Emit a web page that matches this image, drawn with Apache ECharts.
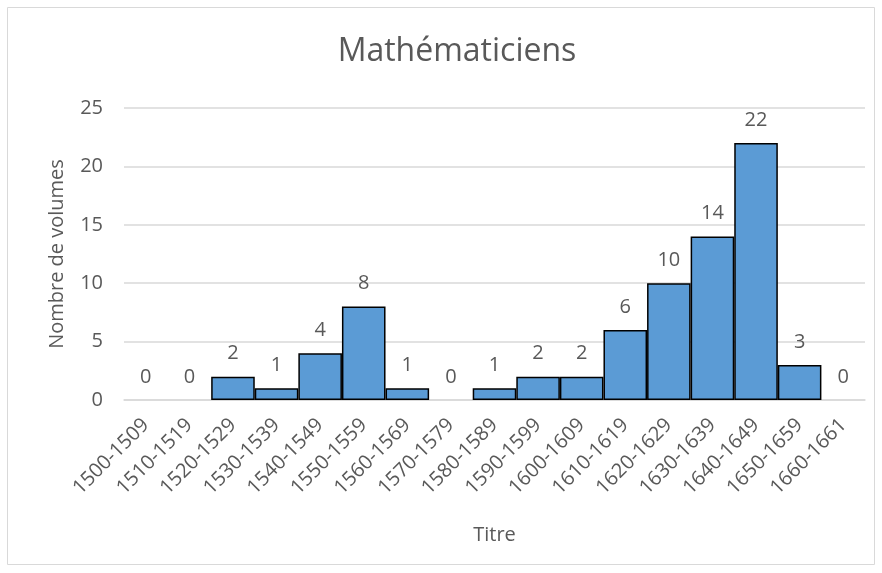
<!DOCTYPE html>
<html>
<head>
<meta charset="utf-8">
<script src="https://cdn.jsdelivr.net/npm/echarts@6/dist/echarts.min.js"></script>
<style>
  html, body { margin: 0; padding: 0; background: #fff; }
  #chart { width: 882px; height: 573px; }
</style>
</head>
<body>
<div id="chart"></div>
<script>
// periodes (categories)
const periods = ['1500-1509', '1510-1519', '1520-1529', '1530-1539', '1540-1549', '1550-1559',
  '1560-1569', '1570-1579', '1580-1589', '1590-1599', '1600-1609', '1610-1619',
  '1620-1629', '1630-1639', '1640-1649', '1650-1659', '1660-1661']
// nombre de volumes
const volumes = [0, 0, 2, 1, 4, 8, 1, 0, 1, 2, 2, 6, 10, 14, 22, 3, 0]

const txt = '#595959'
const font = 'Open Sans'

const chart = echarts.init(document.getElementById('chart'))
chart.setOption({
  animation: false,
  textStyle: { fontFamily: font },
  graphic: [{
    type: 'rect',
    shape: { x: 7.5, y: 7.5, width: 867, height: 557 },
    style: { fill: 'none', stroke: '#d9d9d9', lineWidth: 1 },
    silent: true
  }],
  title: {
    text: 'Mathématiciens',
    left: 452,
    top: 31,
    textAlign: 'center',
    textStyle: { fontSize: 32, fontWeight: 'normal', color: txt, fontFamily: font }
  },
  grid: { left: 124, right: 17, top: 108, bottom: 173 },
  xAxis: [{
    type: 'category',
    data: periods,
    name: 'Titre',
    nameLocation: 'middle',
    nameGap: 125,
    nameTextStyle: { fontSize: 20, color: txt },
    axisLine: { lineStyle: { color: '#d9d9d9', width: 1.5 } },
    axisTick: { inside: true, length: 5, interval: 0, lineStyle: { color: '#d9d9d9', width: 1.5 } },
    axisLabel: { rotate: 45, interval: 0, fontSize: 20, color: txt, margin: 22 }
  }, {
    // ticks au milieu des categories
    type: 'category',
    data: periods,
    position: 'bottom',
    axisLine: { show: false },
    axisTick: { inside: true, length: 5, interval: 0, alignWithLabel: true, lineStyle: { color: '#d9d9d9', width: 1.5 } },
    axisLabel: { show: false }
  }],
  yAxis: {
    type: 'value',
    min: 0,
    max: 25,
    interval: 5,
    name: 'Nombre de volumes',
    nameLocation: 'middle',
    nameGap: 57,
    nameTextStyle: { fontSize: 20, color: txt },
    axisLine: { show: false },
    axisTick: { show: false },
    axisLabel: { fontSize: 20, color: txt, margin: 21 },
    splitLine: { lineStyle: { color: '#d9d9d9', width: 1.5 } }
  },
  series: [{
    type: 'bar',
    data: volumes.map(v => ({ value: v, itemStyle: v === 0 ? { borderWidth: 0 } : {} })),
    barCategoryGap: '0%',
    itemStyle: { color: '#5b9bd5', borderColor: '#000', borderWidth: 1.5 },
    label: { show: true, position: 'top', distance: 13, fontSize: 20, color: txt }
  }]
})
</script>
</body>
</html>
